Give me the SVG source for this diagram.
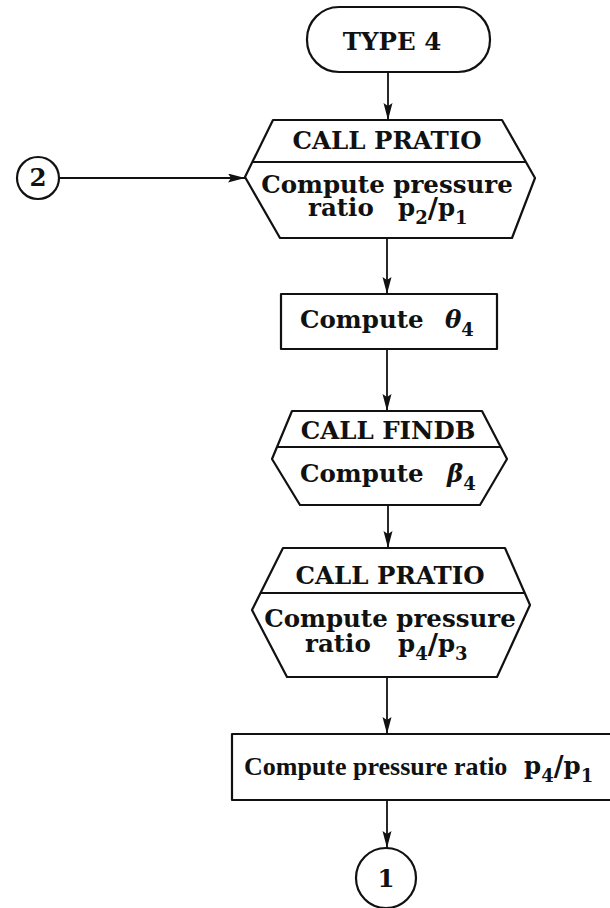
<svg xmlns="http://www.w3.org/2000/svg" width="610" height="908" viewBox="0 0 610 908">
  <style>
    .shape { fill: #fff; stroke: #111; stroke-width: 2.2; stroke-linejoin: round; }
    .div { stroke: #111; stroke-width: 2; }
    .conn { fill: none; stroke: #111; stroke-width: 1.8; }
    text { font-family: "DejaVu Serif", "Liberation Serif", serif; font-weight: bold; font-size: 24.5px; fill: #111; }
    .c { text-anchor: middle; }
    .sub { font-size: 18px; }
    .gr { font-style: italic; }
    .tight { font-family: "Liberation Serif", "DejaVu Serif", serif; font-size: 26px; }
  </style>
  <defs>
    <marker id="arrow" markerUnits="userSpaceOnUse" markerWidth="18" markerHeight="10" refX="17" refY="4.5" orient="auto">
      <path d="M0,0 L17,4.5 L0,9 L3,4.5 z" fill="#111"/>
    </marker>
  </defs>

  <rect width="610" height="908" fill="#fff"/>

  <!-- connectors -->
  <g id="connectors">
    <line class="conn" x1="388" y1="72" x2="388" y2="120" marker-end="url(#arrow)"/>
    <line class="conn" x1="59" y1="178" x2="245" y2="178" marker-end="url(#arrow)"/>
    <line class="conn" x1="387" y1="238" x2="387" y2="294" marker-end="url(#arrow)"/>
    <line class="conn" x1="387" y1="349" x2="387" y2="411" marker-end="url(#arrow)"/>
    <line class="conn" x1="388" y1="505" x2="388" y2="548" marker-end="url(#arrow)"/>
    <line class="conn" x1="387" y1="677" x2="387" y2="734" marker-end="url(#arrow)"/>
    <line class="conn" x1="387" y1="800" x2="387" y2="848" marker-end="url(#arrow)"/>
  </g>

  <!-- start terminal -->
  <g id="type4">
    <rect class="shape" x="307" y="7" width="183" height="65" rx="32" ry="32"/>
    <text class="c" x="392" y="50" font-size="26">TYPE 4</text>
  </g>

  <!-- off-page entry 2 -->
  <g id="entry2">
    <circle class="shape" cx="38" cy="178" r="21"/>
    <text class="c" x="38" y="186" font-size="23">2</text>
  </g>

  <!-- CALL PRATIO: p2/p1 -->
  <g id="pratio1">
    <polygon class="shape" points="273,120 502,120 535,178 512,238 280,238 245,177"/>
    <line class="div" x1="252.4" y1="162" x2="525.9" y2="162"/>
    <text class="c" x="387" y="149">CALL PRATIO</text>
    <text class="c" x="387" y="193">Compute pressure</text>
    <text x="308" y="216">ratio<tspan x="398">p</tspan><tspan class="sub" dy="8">2</tspan><tspan dy="-6" font-size="28">/</tspan><tspan dy="-2">p</tspan><tspan class="sub" dy="8">1</tspan></text>
  </g>

  <!-- theta -->
  <g id="theta4">
    <rect class="shape" x="281" y="294" width="216" height="55"/>
    <text x="300" y="328">Compute</text>
    <text x="445" y="328"><tspan class="gr">θ</tspan><tspan class="sub" dy="8">4</tspan></text>
  </g>

  <!-- CALL FINDB -->
  <g id="findb">
    <polygon class="shape" points="292,411 482,411 507,459 480,505 300,505 272,459"/>
    <line class="div" x1="277" y1="447" x2="500.7" y2="447"/>
    <text class="c" x="388" y="439">CALL FINDB</text>
    <text x="300" y="482">Compute</text>
    <text x="447" y="482"><tspan class="gr">β</tspan><tspan class="sub" dy="8">4</tspan></text>
  </g>

  <!-- CALL PRATIO: p4/p3 -->
  <g id="pratio2">
    <polygon class="shape" points="283,548 505,548 530,605 497,677 287,677 252,610"/>
    <line class="div" x1="260.5" y1="593" x2="524.7" y2="593"/>
    <text class="c" x="390" y="584">CALL PRATIO</text>
    <text class="c" x="390" y="627">Compute pressure</text>
    <text x="305" y="652">ratio<tspan x="398">p</tspan><tspan class="sub" dy="8">4</tspan><tspan dy="-6" font-size="28">/</tspan><tspan dy="-2">p</tspan><tspan class="sub" dy="8">3</tspan></text>
  </g>

  <!-- overall ratio -->
  <g id="ratio41">
    <rect class="shape" x="232" y="734" width="400" height="66"/>
    <text class="tight" x="244" y="775">Compute pressure ratio</text>
    <text x="524" y="774" font-size="23">p<tspan class="sub" dy="8">4</tspan><tspan dy="-6" font-size="27">/</tspan><tspan dy="-2">p</tspan><tspan class="sub" dy="8">1</tspan></text>
  </g>

  <!-- off-page exit 1 -->
  <g id="exit1">
    <circle class="shape" cx="386" cy="878" r="30"/>
    <text class="c" x="386" y="887" font-size="23">1</text>
  </g>
</svg>
